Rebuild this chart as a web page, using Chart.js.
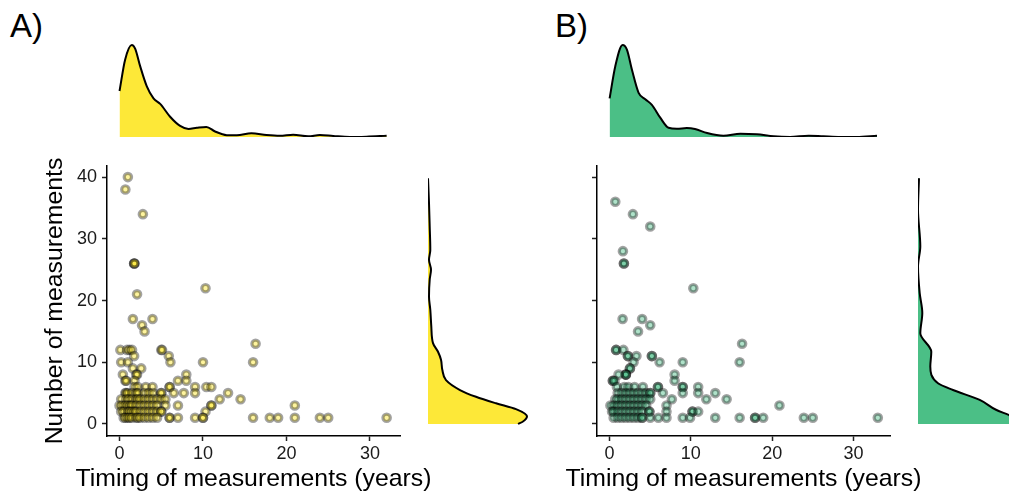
<!DOCTYPE html>
<html>
<head>
<meta charset="utf-8">
<script src="https://cdn.jsdelivr.net/npm/chart.js@4.4.0/dist/chart.umd.min.js"></script>
<style>
body { margin: 0; width: 1009px; height: 494px; overflow: hidden; background: #fff; position: relative; font-family: 'Liberation Sans', Arial, sans-serif; }
canvas { position: absolute; }
.tag { position: absolute; font-size: 33px; line-height: 1; color: #000; }
</style>
</head>
<body>
<div class="tag" style="left:10px;top:9px">A)</div>
<div class="tag" style="left:555px;top:9px">B)</div>

<canvas id="scatterA" width="440" height="344" style="left:0px;top:150px"></canvas>
<canvas id="topA" width="293" height="107" style="left:107px;top:30px"></canvas>
<canvas id="rightA" width="105" height="270" style="left:428px;top:166px"></canvas>

<canvas id="scatterB" width="440" height="344" style="left:490px;top:150px"></canvas>
<canvas id="topB" width="293" height="107" style="left:597px;top:30px"></canvas>
<canvas id="rightB" width="91" height="270" style="left:918px;top:166px"></canvas>

<script>
// tick labels
const xTicks = [0, 10, 20, 30];
const yTicks = [0, 10, 20, 30, 40];

// A) timing (years), number of measurements
const pointsA = [
    [1.0, 40], [0.7, 38], [2.8, 34], [1.75, 26], [1.75, 26], [1.8, 26], [2.1, 21], [10.3, 22],
    [1.6, 17], [2.7, 16], [3.95, 17], [3.0, 15], [16.3, 13], [16.0, 10], [10.0, 10],
    [0.1, 12], [0.9, 12], [1.2, 12], [1.5, 12], [5.0, 12], [5.1, 12],
    [1.75, 11], [5.9, 11],
    [0.2, 10], [1.0, 10], [6.1, 10],
    [1.6, 9], [2.6, 9],
    [0.4, 8], [2.0, 8], [2.1, 8], [8.0, 8],
    [0.7, 7], [0.8, 7], [1.8, 7], [7.0, 7], [8.0, 7],
    [1.8, 6], [2.2, 6], [3.15, 6], [3.95, 6], [6.0, 6], [6.0, 6], [9.05, 6], [10.4, 6], [11.0, 6],
    [0.7, 5], [0.8, 5], [1.0, 5], [1.5, 5], [2.0, 5], [2.2, 5], [3.0, 5], [3.5, 5], [4.0, 5],
    [5.0, 5], [5.0, 5], [6.5, 5], [7.7, 5], [9.05, 5], [13.0, 5],
    [0.2, 4], [0.8, 4], [1.1, 4], [1.5, 4], [2.0, 4], [2.2, 4], [2.5, 4], [3.0, 4], [3.5, 4],
    [4.0, 4], [4.5, 4], [5.0, 4], [5.5, 4], [12.0, 4], [14.5, 4],
    [0.0, 3], [0.3, 3], [0.7, 3], [1.0, 3], [1.3, 3], [1.5, 3], [2.0, 3], [2.5, 3], [3.0, 3],
    [3.5, 3], [4.0, 3], [4.5, 3], [5.5, 3], [7.0, 3], [11.0, 3], [11.0, 3], [21.0, 3],
    [0.2, 2], [0.5, 2], [1.0, 2], [1.2, 2], [1.5, 2], [1.8, 2], [2.0, 2], [2.5, 2], [3.0, 2],
    [3.5, 2], [4.0, 2], [4.5, 2], [5.0, 2], [5.0, 2], [10.3, 2],
    [0.5, 1], [0.7, 1], [1.0, 1], [1.2, 1], [1.5, 1], [2.0, 1], [2.2, 1], [2.5, 1], [3.0, 1],
    [3.5, 1], [4.0, 1], [4.5, 1], [6.0, 1], [6.0, 1], [7.0, 1], [9.05, 1], [10.0, 1], [10.0, 1],
    [16.0, 1], [18.0, 1], [19.0, 1], [21.0, 1], [24.0, 1], [25.0, 1], [32.0, 1]
];

// B) timing (years), number of measurements
const pointsB = [
    [0.7, 36], [2.87, 34], [5.0, 32], [1.64, 28], [1.76, 26], [1.76, 26], [10.3, 22],
    [1.6, 17], [4.0, 17], [5.0, 16], [3.5, 15], [16.3, 13], [16.0, 10], [9.0, 10], [6.15, 10],
    [0.8, 12], [0.8, 12], [1.7, 12],
    [2.25, 11], [2.25, 11], [3.3, 11], [5.2, 11], [5.2, 11],
    [2.95, 10],
    [2.5, 9], [2.5, 9],
    [2.0, 8], [2.0, 8], [2.0, 8], [1.1, 8], [8.0, 8],
    [0.4, 7], [0.4, 7], [0.6, 7], [8.0, 7],
    [0.9, 6], [1.8, 6], [2.3, 6], [3.07, 6], [4.1, 6], [5.95, 6], [5.95, 6], [9.0, 6], [9.0, 6], [10.9, 6],
    [1.0, 5], [1.5, 5], [2.0, 5], [2.5, 5], [3.0, 5], [3.5, 5], [4.0, 5], [4.5, 5], [5.0, 5], [5.0, 5],
    [6.56, 5], [9.0, 5], [10.9, 5], [13.0, 5],
    [0.7, 4], [1.0, 4], [1.5, 4], [2.0, 4], [2.5, 4], [3.0, 4], [3.5, 4], [4.0, 4], [4.5, 4], [5.0, 4],
    [7.66, 4], [11.9, 4], [14.4, 4],
    [0.1, 3], [0.5, 3], [1.0, 3], [1.5, 3], [2.0, 3], [2.5, 3], [3.0, 3], [3.5, 3], [4.0, 3], [4.5, 3],
    [7.0, 3], [20.9, 3],
    [0.3, 2], [0.5, 2], [1.0, 2], [1.5, 2], [2.0, 2], [2.5, 2], [3.0, 2], [3.5, 2], [4.0, 2],
    [4.9, 2], [4.9, 2], [7.0, 2], [10.2, 2], [10.2, 2], [10.9, 2],
    [0.5, 1], [1.0, 1], [1.5, 1], [2.0, 1], [2.5, 1], [3.0, 1], [3.5, 1], [4.0, 1], [4.0, 1],
    [5.0, 1], [6.0, 1], [7.0, 1], [9.0, 1], [9.9, 1], [13.0, 1], [16.0, 1], [17.9, 1], [17.9, 1],
    [18.9, 1], [23.9, 1], [25.0, 1], [33.0, 1]
];

// marginal densities (peak = 1)
const densXA = [0, 0.67, 1.47, 1.87, 2.47, 3.27, 4.07, 4.87, 6.06, 7.26, 8.26, 9.26, 10.4, 11.45, 12.85, 14.05, 15.8, 17.6, 19.2, 20.8, 22.6, 24, 25.6, 27.6, 29.6, 32];
const densHA = [0.5, 0.84, 1.0, 0.96, 0.77, 0.55, 0.42, 0.36, 0.22, 0.12, 0.087, 0.1, 0.11, 0.06, 0.02, 0.018, 0.04, 0.022, 0.014, 0.025, 0.007, 0.022, 0.011, 0, 0.004, 0.014];
const densYA = [0, 0.4, 1.2, 2.4, 3.35, 4.4, 5.5, 7.1, 8.8, 10.4, 11.7, 13.1, 15.8, 18.5, 20.6, 23.4, 25, 26.6, 28.2, 32, 35.8, 39.8];
const densWA = [0.9, 0.95, 0.99, 0.88, 0.68, 0.48, 0.32, 0.18, 0.143, 0.13, 0.1, 0.05, 0.033, 0.023, 0.01, 0.017, 0.03, 0.01, 0.023, 0.017, 0.01, 0];

const densXB = [0, 0.7, 1.6, 2.13, 2.75, 3.57, 4.39, 5.2, 6.23, 7.25, 8.28, 9.5, 10.5, 12, 14, 16.1, 18.1, 20.2, 22.2, 24.5, 26.3, 28.4, 30.4, 32.9];
const densHB = [0.42, 0.77, 1.0, 0.95, 0.73, 0.48, 0.41, 0.35, 0.21, 0.1, 0.09, 0.097, 0.087, 0.043, 0.014, 0.036, 0.029, 0.007, 0, 0.014, 0.007, 0, 0, 0.014];
const densYB = [0, 0.7, 1.46, 2.3, 3.9, 5.5, 6.6, 9.3, 11.7, 14.7, 18, 21.2, 25.5, 28.8, 34.7, 39.8];
const densWB = [0.98, 1.0, 0.907, 0.78, 0.617, 0.35, 0.2, 0.123, 0.133, 0.023, 0.043, 0.017, 0, 0.023, 0, 0.01];

const FONT = "'Liberation Sans', Arial, sans-serif";
const yellow = '#FDE838';
const green = '#4BBF86';
const Y_MIN = -1.95, Y_MAX = 41.8;

// chart.js squeezes axis titles into the axis length, ggplot lets them overflow -> draw them ourselves
const axisTitles = {
    id: 'axisTitles',
    afterDraw(chart, args, opts) {
        const { ctx, chartArea } = chart;
        ctx.save();
        ctx.font = '24.8px ' + FONT;
        ctx.fillStyle = '#000';
        ctx.textAlign = 'center';
        ctx.textBaseline = 'middle';
        if (opts.x) ctx.fillText(opts.x, (chartArea.left + chartArea.right) / 2, chart.height - 15);
        if (opts.y) {
            ctx.translate(55.6, (chartArea.top + chartArea.bottom) / 2);
            ctx.rotate(-Math.PI / 2);
            ctx.fillText(opts.y, 0, 0);
        }
        ctx.restore();
    }
};

function scatter(id, points, fill, xMin, xMax, withYLabels) {
    new Chart(document.getElementById(id), {
        type: 'scatter',
        data: {
            datasets: [{
                data: points.map(p => ({ x: p[0], y: p[1] })),
                pointRadius: 3.7,
                borderWidth: 3.2,
                backgroundColor: fill,
                borderColor: 'rgba(0,0,0,0.36)'
            }]
        },
        plugins: [axisTitles],
        options: {
            responsive: false,
            animation: false,
            devicePixelRatio: 1,
            events: [],
            layout: { padding: { top: 16, right: 40, left: 0, bottom: 0 } },
            plugins: {
                legend: { display: false },
                tooltip: { enabled: false },
                axisTitles: {
                    x: 'Timing of measurements (years)',
                    y: withYLabels ? 'Number of measurements' : ''
                }
            },
            scales: {
                x: {
                    type: 'linear', min: xMin, max: xMax,
                    afterBuildTicks: s => { s.ticks = xTicks.map(v => ({ value: v })); },
                    afterFit: s => { s.height = 58; },
                    grid: { drawOnChartArea: false, drawTicks: true, tickLength: 5, tickColor: '#222', tickWidth: 1.5 },
                    border: { display: true, color: '#000', width: 1.5 },
                    ticks: { color: '#1a1a1a', font: { family: FONT, size: 18 }, padding: 2, maxRotation: 0, autoSkip: false }
                },
                y: {
                    type: 'linear', min: Y_MIN, max: Y_MAX,
                    afterBuildTicks: s => { s.ticks = yTicks.map(v => ({ value: v })); },
                    afterFit: s => { s.width = 107; },
                    grid: { drawOnChartArea: false, drawTicks: true, tickLength: 5, tickColor: '#222', tickWidth: 1.5 },
                    border: { display: true, color: '#000', width: 1.5 },
                    ticks: {
                        color: '#1a1a1a', font: { family: FONT, size: 18 }, padding: 5, autoSkip: false,
                        callback: v => withYLabels ? String(v) : ''
                    }
                }
            }
        }
    });
}

function topDensity(id, xs, hs, fill, xMin, xMax) {
    new Chart(document.getElementById(id), {
        type: 'line',
        data: {
            datasets: [{
                data: xs.map((x, i) => ({ x: x, y: hs[i] })),
                borderColor: '#000',
                borderWidth: 2,
                pointRadius: 0,
                cubicInterpolationMode: 'monotone',
                fill: 'origin',
                backgroundColor: fill
            }]
        },
        options: {
            responsive: false, animation: false, devicePixelRatio: 1, events: [],
            layout: { padding: 0 },
            plugins: { legend: { display: false }, tooltip: { enabled: false } },
            scales: {
                x: { type: 'linear', min: xMin, max: xMax, display: false },
                y: { type: 'linear', min: 0, max: 1.163, display: false }
            }
        }
    });
}

function rightDensity(id, ys, ws, fill, wMax) {
    new Chart(document.getElementById(id), {
        type: 'line',
        data: {
            datasets: [{
                data: ys.map((y, i) => ({ x: ws[i], y: y })),
                borderColor: '#000',
                borderWidth: 2,
                pointRadius: 0,
                cubicInterpolationMode: 'monotone',
                fill: 'origin',
                backgroundColor: fill
            }]
        },
        options: {
            indexAxis: 'y',
            responsive: false, animation: false, devicePixelRatio: 1, events: [],
            layout: { padding: 0 },
            plugins: { legend: { display: false }, tooltip: { enabled: false } },
            scales: {
                x: { type: 'linear', min: 0, max: wMax, display: false },
                y: { type: 'linear', min: Y_MIN, max: Y_MAX, display: false }
            }
        }
    });
}

scatter('scatterA', pointsA, 'rgba(253,231,37,0.45)', -1.5, 33.6, true);
topDensity('topA', densXA, densHA, yellow, -1.5, 33.6);
rightDensity('rightA', densYA, densWA, yellow, 1.05);

scatter('scatterB', pointsB, 'rgba(53,183,121,0.4)', -1.55, 34.5, false);
topDensity('topB', densXB, densHB, green, -1.55, 34.5);
rightDensity('rightB', densYB, densWB, green, 0.91);
</script>
</body>
</html>
